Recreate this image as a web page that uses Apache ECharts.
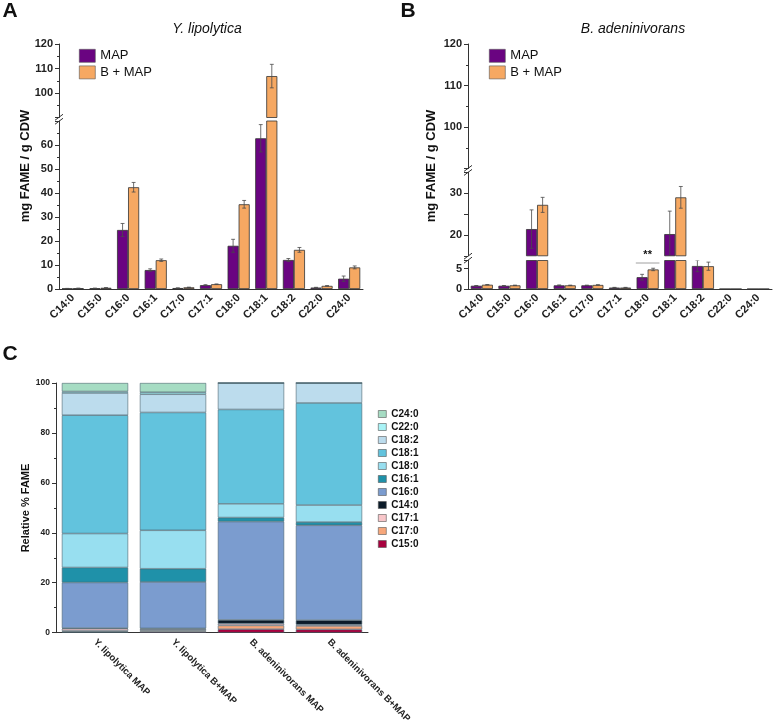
<!DOCTYPE html>
<html>
<head>
<meta charset="utf-8">
<script src="https://cdn.jsdelivr.net/npm/echarts@6/dist/echarts.min.js"></script>
<style>
  html, body { margin: 0; padding: 0; background: #fff; }
  #chart { width: 774px; height: 726px; }
</style>
</head>
<body>
<div id="chart"></div>
<script>
// fatty acids on the x axis of A and B
const acids = ['C14:0', 'C15:0', 'C16:0', 'C16:1', 'C17:0', 'C17:1', 'C18:0', 'C18:1', 'C18:2', 'C22:0', 'C24:0']

// A: Y. lipolytica, mg FAME / g CDW
const yliMap = [0.2, 0.3, 24.6, 7.9, 0.4, 1.6, 18.0, 62.8, 12.1, 0.6, 4.3]
const yliMapErr = [0.05, 0.05, 2.7, 0.5, 0.05, 0.2, 2.7, 5.7, 0.6, 0.1, 1.1]
const yliBMap = [0.3, 0.5, 42.4, 12.0, 0.7, 2.0, 35.3, 106.9, 16.3, 1.3, 9.0]
const yliBMapErr = [0.05, 0.05, 2.0, 0.5, 0.05, 0.1, 1.6, 4.8, 1.0, 0.1, 0.6]

// B: B. adeninivorans, mg FAME / g CDW
const badMap = [0.8, 0.8, 21.4, 0.9, 0.9, 0.35, 2.9, 20.2, 5.65, 0, 0]
const badMapErr = [0.05, 0.05, 4.6, 0.1, 0.05, 0.05, 0.7, 5.5, 1.4, 0, 0]
const badBMap = [1.05, 0.9, 27.2, 0.9, 1.0, 0.35, 4.8, 29.0, 5.6, 0, 0]
const badBMapErr = [0.05, 0.05, 1.8, 0.05, 0.05, 0.05, 0.3, 2.6, 1.0, 0, 0]

// C: relative % FAME
const samples = ['Y. lipolytica MAP', 'Y. lipolytica B+MAP', 'B. adeninivorans MAP', 'B. adeninivorans B+MAP']
const relC15_0 = [0.3, 0.4, 1.4, 1.3]
const relC17_0 = [0.4, 0.5, 1.5, 1.4]
const relC17_1 = [0.9, 0.5, 0.7, 0.5]
const relC14_0 = [0.2, 0.3, 1.5, 1.8]
const relC16_0 = [18.3, 18.6, 39.4, 38.0]
const relC16_1 = [6.0, 5.3, 1.6, 1.3]
const relC18_0 = [13.6, 15.4, 5.5, 6.8]
const relC18_1 = [47.4, 47.2, 37.8, 40.9]
const relC18_2 = [8.9, 7.3, 10.6, 8.0]
const relC22_0 = [0.6, 0.8, 0, 0]
const relC24_0 = [3.4, 3.7, 0, 0]

const font = 'Liberation Sans, Arial, sans-serif'
const purple = '#6a0481'
const orange = '#f6a862'

// grid layout: A upper/lower, B upper/middle/lower, C
const grids = [
  { left: 59, top: 44, width: 304, height: 73.5 },
  { left: 59, top: 121, width: 304, height: 168 },
  { left: 468, top: 44, width: 304, height: 124.5 },
  { left: 468, top: 172.3, width: 304, height: 83.5 },
  { left: 468, top: 260.5, width: 304, height: 28.5 },
  { left: 56, top: 383, width: 312, height: 250 }
]

const catAxis = (gi, show) => ({
  type: 'category', gridIndex: gi, data: acids, show: show,
  axisLine: { lineStyle: { color: '#333' } },
  axisTick: { alignWithLabel: true, length: 4, lineStyle: { color: '#333' } },
  axisLabel: { rotate: 45, interval: 0, margin: 7, fontSize: 11, fontWeight: 'bold', color: '#222', fontFamily: font }
})

const valAxis = (gi, min, max, interval, labelIf, minor) => ({
  type: 'value', gridIndex: gi, min: min, max: max, interval: interval,
  axisLine: { show: true, lineStyle: { color: '#333' } },
  axisTick: { show: true, length: 4, lineStyle: { color: '#333' } },
  minorTick: { show: !!minor, splitNumber: 2, length: 2, lineStyle: { color: '#333' } },
  splitLine: { show: false },
  axisLabel: {
    margin: 6, fontSize: 11, fontWeight: 'bold', color: '#222', fontFamily: font,
    formatter: v => labelIf(v) ? String(v) : ''
  }
})

const xAxes = [
  catAxis(0, false), catAxis(1, true),
  catAxis(2, false), catAxis(3, false), catAxis(4, true),
  {
    type: 'category', gridIndex: 5, data: samples,
    axisLine: { lineStyle: { color: '#333' } },
    axisTick: { length: 4, lineStyle: { color: '#333' } },
    axisLabel: { rotate: -45, interval: 0, margin: 8, fontSize: 9.5, fontWeight: 'bold', color: '#222', fontFamily: font }
  }
]

const yAxes = [
  valAxis(0, 90, 120, 10, v => v >= 100, true),
  valAxis(1, 0, 70, 10, v => v <= 60, true),
  valAxis(2, 90, 120, 10, v => v >= 100, true),
  valAxis(3, 15, 35, 5, v => v % 10 === 0, false),
  valAxis(4, 0, 7, 5, v => v % 5 === 0, false),
  valAxis(5, 0, 100, 20, v => true, true)
]
yAxes[5].axisLabel.fontSize = 8.5

const series = []

function errorBars(side) {
  return function (params, api) {
    const i = api.value(0), v = api.value(1), e = api.value(2)
    if (!e) return
    const band = api.size([1, 0])[0]
    const hi = api.coord([i, v + e])
    const lo = api.coord([i, v - e])
    const x = hi[0] + side * band * 0.2
    const cap = band * 0.07
    const style = { stroke: '#4a4a4a', lineWidth: 0.8 }
    return {
      type: 'group',
      children: [
        { type: 'line', shape: { x1: x, y1: hi[1], x2: x, y2: lo[1] }, style: style },
        { type: 'line', shape: { x1: x - cap, y1: hi[1], x2: x + cap, y2: hi[1] }, style: style },
        { type: 'line', shape: { x1: x - cap, y1: lo[1], x2: x + cap, y2: lo[1] }, style: style }
      ]
    }
  }
}

function addGroup(gi, map, mapErr, bmap, bmapErr) {
  series.push({
    name: 'MAP', type: 'bar', xAxisIndex: gi, yAxisIndex: gi, data: map,
    barWidth: '40%', barGap: '0%',
    itemStyle: { color: purple, borderColor: '#333', borderWidth: 0.8 }
  })
  series.push({
    name: 'B + MAP', type: 'bar', xAxisIndex: gi, yAxisIndex: gi, data: bmap,
    barWidth: '40%', barGap: '0%',
    itemStyle: { color: orange, borderColor: '#333', borderWidth: 0.8 }
  })
  series.push({
    type: 'custom', xAxisIndex: gi, yAxisIndex: gi, clip: true, z: 5, silent: true,
    renderItem: errorBars(-1), encode: { x: 0, y: 1 },
    data: map.map((v, i) => [i, v, mapErr[i]])
  })
  series.push({
    type: 'custom', xAxisIndex: gi, yAxisIndex: gi, clip: true, z: 5, silent: true,
    renderItem: errorBars(1), encode: { x: 0, y: 1 },
    data: bmap.map((v, i) => [i, v, bmapErr[i]])
  })
}

addGroup(0, yliMap, yliMapErr, yliBMap, yliBMapErr)
addGroup(1, yliMap, yliMapErr, yliBMap, yliBMapErr)
addGroup(2, badMap, badMapErr, badBMap, badBMapErr)
addGroup(3, badMap, badMapErr, badBMap, badBMapErr)
addGroup(4, badMap, badMapErr, badBMap, badBMapErr)

// stacked composition, bottom to top
const stackC = [
  ['C15:0', relC15_0, '#a8003e'],
  ['C17:0', relC17_0, '#f7a77b'],
  ['C17:1', relC17_1, '#f8c6c9'],
  ['C14:0', relC14_0, '#0b1b29'],
  ['C16:0', relC16_0, '#7b9ccf'],
  ['C16:1', relC16_1, '#1f91a9'],
  ['C18:0', relC18_0, '#98dff0'],
  ['C18:1', relC18_1, '#62c3dd'],
  ['C18:2', relC18_2, '#bcdced'],
  ['C22:0', relC22_0, '#a9f3f6'],
  ['C24:0', relC24_0, '#a6dcc3']
]
stackC.forEach(([name, data, color]) => {
  series.push({
    name: name, type: 'bar', stack: 'rel', xAxisIndex: 5, yAxisIndex: 5, data: data,
    barWidth: '85%',
    itemStyle: { color: color, borderColor: '#4b6470', borderWidth: 0.6 }
  })
})

const legendBase = {
  orient: 'vertical', icon: 'rect', padding: 0, selectedMode: false,
  itemWidth: 16, itemHeight: 13, itemGap: 3,
  itemStyle: { borderWidth: 0.6, borderColor: '#555' },
  textStyle: { fontSize: 13, color: '#111', fontFamily: font }
}

// decorations
const txt = (x, y, text, fontCss, rot) => ({
  type: 'text', x: x, y: y, rotation: rot || 0, silent: true,
  style: { text: text, font: fontCss, fill: '#111', align: 'center', verticalAlign: 'middle' }
})
function breakMark(x, y) {
  return [-2, 2].map(k => ({
    type: 'line', silent: true,
    shape: { x1: x - 4, y1: y + k + 3, x2: x + 4, y2: y + k - 3 },
    style: { stroke: '#333', lineWidth: 1 }
  }))
}
const gapY = (a, b) => (grids[a].top + grids[a].height + grids[b].top) / 2
const catW = grids[4].width / acids.length
const sigX0 = grids[4].left + 6 * catW + 2
const sigX1 = grids[4].left + 7 * catW - 2
const sigY = grids[4].top + 2.5

const graphic = [
  txt(10, 11, 'A', 'bold 21px ' + font),
  txt(408, 11, 'B', 'bold 21px ' + font),
  txt(10, 354, 'C', 'bold 21px ' + font),
  txt(207, 29, 'Y. lipolytica', 'italic 14px ' + font),
  txt(633, 29, 'B. adeninivorans', 'italic 14px ' + font),
  txt(25, 166, 'mg FAME / g CDW', 'bold 13px ' + font, Math.PI / 2),
  txt(431, 166, 'mg FAME / g CDW', 'bold 13px ' + font, Math.PI / 2),
  txt(26, 508, 'Relative % FAME', 'bold 11px ' + font, Math.PI / 2),
  ...breakMark(grids[1].left, gapY(0, 1)),
  ...breakMark(grids[2].left, gapY(2, 3)),
  ...breakMark(grids[3].left, gapY(3, 4)),
  {
    type: 'line', silent: true,
    shape: { x1: sigX0, y1: sigY, x2: sigX1, y2: sigY },
    style: { stroke: '#888', lineWidth: 0.8 }
  },
  txt((sigX0 + sigX1) / 2, sigY - 8, '**', 'bold 11px ' + font)
]

const chart = echarts.init(document.getElementById('chart'))
chart.setOption({
  animation: false,
  textStyle: { fontFamily: font },
  grid: grids,
  xAxis: xAxes,
  yAxis: yAxes,
  legend: [
    Object.assign({}, legendBase, { left: 79, top: 49, data: ['MAP', 'B + MAP'] }),
    Object.assign({}, legendBase, { left: 489, top: 49, data: ['MAP', 'B + MAP'] }),
    Object.assign({}, legendBase, {
      left: 378, top: 409, itemWidth: 8, itemHeight: 7, itemGap: 3,
      textStyle: { fontSize: 10, fontWeight: 'bold', color: '#111', fontFamily: font },
      data: stackC.map(s => s[0]).reverse()
    })
  ],
  series: series,
  graphic: graphic
})
</script>
</body>
</html>
